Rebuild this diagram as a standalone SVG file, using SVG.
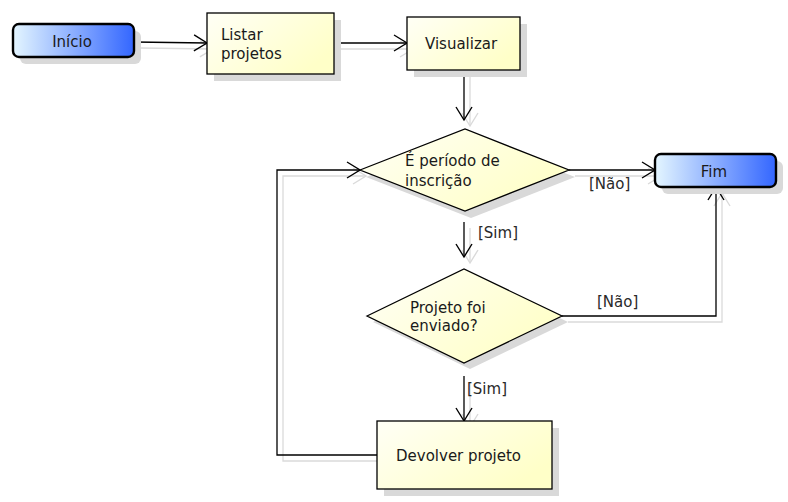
<svg xmlns="http://www.w3.org/2000/svg" width="788" height="502" viewBox="0 0 788 502">
<defs>
<style>
text{font-family:"DejaVu Sans","Liberation Sans",sans-serif;font-size:15px;fill:#1a1a1a}
.lbl{font-size:15px;fill:#2a2a2a}
.shadow{fill:#d9d9d9}
.box{stroke:#000;stroke-width:1.3}
.term{stroke:#000;stroke-width:2.4}
.conn{fill:none;stroke:#000;stroke-width:1.3}
.connsh{fill:none;stroke:#dadada;stroke-width:1.3}
</style>
<linearGradient id="gy" x1="0" y1="0" x2="1" y2="0.6">
<stop offset="0" stop-color="#fffff6"/>
<stop offset="1" stop-color="#ffffc8"/>
</linearGradient>
<linearGradient id="gb" x1="0" y1="0" x2="1" y2="0">
<stop offset="0" stop-color="#e4f6ff"/>
<stop offset="1" stop-color="#3366ff"/>
</linearGradient>
<marker id="ah" markerUnits="userSpaceOnUse" markerWidth="20" markerHeight="20" refX="14" refY="9" orient="auto" viewBox="0 0 20 18">
<path d="M1,1 L14,9 L1,17" fill="none" stroke="#000" stroke-width="1.4"/>
</marker>
<marker id="ahs" markerUnits="userSpaceOnUse" markerWidth="20" markerHeight="20" refX="14" refY="9" orient="auto" viewBox="0 0 20 18">
<path d="M1,1 L14,9 L1,17" fill="none" stroke="#dadada" stroke-width="1.4"/>
</marker>
</defs>
<rect width="788" height="502" fill="#fff"/>
<g id="connectors">
<g transform="translate(6,6)">
<path class="connsh" d="M134,42 L207,43" marker-end="url(#ahs)"/>
<path class="connsh" d="M334,43 H407" marker-end="url(#ahs)"/>
<path class="connsh" d="M464,70 V120" marker-end="url(#ahs)"/>
<path class="connsh" d="M569,170 H655" marker-end="url(#ahs)"/>
<path class="connsh" d="M464,222 V257" marker-end="url(#ahs)"/>
<path class="connsh" d="M562,316 H716 V187" marker-end="url(#ahs)"/>
<path class="connsh" d="M464,376 V421" marker-end="url(#ahs)"/>
<path class="connsh" d="M377,455 H277 V170 H360" marker-end="url(#ahs)"/>
</g>
<path class="conn" d="M134,42 L207,43" marker-end="url(#ah)"/>
<path class="conn" d="M334,43 H407" marker-end="url(#ah)"/>
<path class="conn" d="M464,70 V120" marker-end="url(#ah)"/>
<path class="conn" d="M569,170 H655" marker-end="url(#ah)"/>
<path class="conn" d="M464,222 V257" marker-end="url(#ah)"/>
<path class="conn" d="M562,316 H716 V187" marker-end="url(#ah)"/>
<path class="conn" d="M464,376 V421" marker-end="url(#ah)"/>
<path class="conn" d="M377,455 H277 V170 H360" marker-end="url(#ah)"/>
<text class="lbl" x="589" y="189">[Não]</text>
<text class="lbl" x="478" y="238">[Sim]</text>
<text class="lbl" x="597" y="307">[Não]</text>
<text class="lbl" x="467" y="394">[Sim]</text>
</g>
<g id="inicio">
<rect class="shadow" x="20" y="31" width="121" height="33" rx="6"/>
<rect class="term" x="13" y="24" width="121" height="33" rx="6" fill="url(#gb)"/>
<text x="72" y="47" text-anchor="middle">Início</text>
</g>
<g id="listar">
<rect class="shadow" x="214" y="20" width="127" height="61"/>
<rect class="box" x="207" y="13" width="127" height="61" fill="url(#gy)"/>
<text x="221" y="40">Listar</text>
<text x="221" y="59">projetos</text>
</g>
<g id="visualizar">
<rect class="shadow" x="414" y="24" width="113" height="53"/>
<rect class="box" x="407" y="17" width="113" height="53" fill="url(#gy)"/>
<text x="425" y="49">Visualizar</text>
</g>
<g id="periodo">
<polygon class="shadow" points="366,177 471,136 575,177 471,218"/>
<polygon class="box" points="360,170 465,129 569,170 465,211" fill="url(#gy)"/>
<text x="405" y="166">É período de</text>
<text x="405" y="186">inscrição</text>
</g>
<g id="fim">
<rect class="shadow" x="662" y="161" width="121" height="33" rx="6"/>
<rect class="term" x="655" y="154" width="121" height="33" rx="6" fill="url(#gb)"/>
<text x="714" y="177" text-anchor="middle">Fim</text>
</g>
<g id="enviado">
<polygon class="shadow" points="373,322 470,275 568,322 470,369"/>
<polygon class="box" points="367,316 464,269 562,316 464,363" fill="url(#gy)"/>
<text x="410" y="313">Projeto foi</text>
<text x="410" y="331">enviado?</text>
</g>
<g id="devolver">
<rect class="shadow" x="384" y="428" width="175" height="68"/>
<rect class="box" x="377" y="421" width="175" height="68" fill="url(#gy)"/>
<text x="396" y="461">Devolver projeto</text>
</g>
</svg>
